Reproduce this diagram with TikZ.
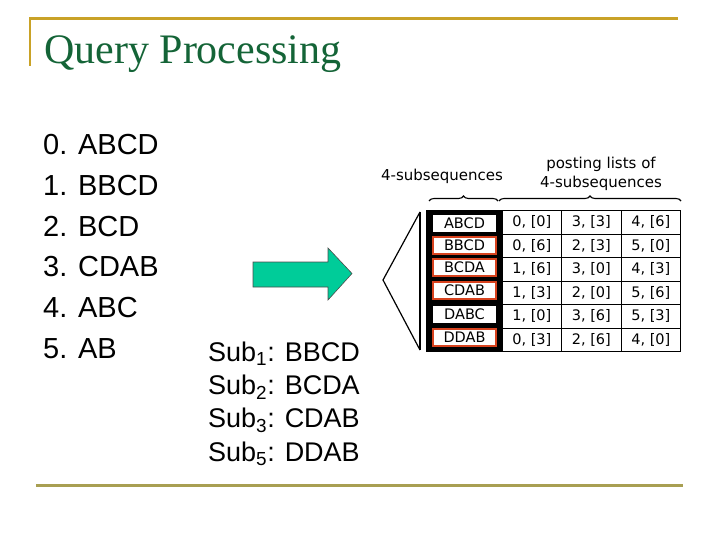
\documentclass[tikz,border=0pt]{standalone}
\usepackage{fontspec}
\setmainfont{Liberation Serif}
\setsansfont{Liberation Sans}
\newfontfamily\tabfont{DejaVu Sans}
\usetikzlibrary{decorations.pathreplacing}
\definecolor{goldline}{RGB}{201,162,39}
\definecolor{oliveline}{RGB}{168,159,82}
\definecolor{titlegreen}{RGB}{20,100,55}
\definecolor{arrowgreen}{RGB}{0,204,153}
\definecolor{cellred}{RGB}{216,67,31}
\tikzset{
  listtxt/.style={anchor=base west, inner sep=0pt, font=\fontsize{29}{29}\sffamily},
  subtxt/.style={anchor=base west, inner sep=0pt, font=\fontsize{27}{27}\sffamily},
  small/.style={inner sep=0pt, font=\fontsize{15}{17}\tabfont},
  postcell/.style={draw=black, line width=1.2pt, minimum width=59.5pt, minimum height=23.5pt, inner sep=0pt, font=\fontsize{14.5}{16}\tabfont, anchor=north west},
  keycell/.style={fill=white, minimum width=63pt, minimum height=17pt, inner sep=0pt, font=\fontsize{14.5}{16}\tabfont},
  redcell/.style={keycell, draw=cellred, line width=2pt},
}
\begin{document}
\begin{tikzpicture}[x=1pt,y=-1pt]
\useasboundingbox (0,0) rectangle (720,540);
% title frame
\draw[goldline, line width=2.6pt] (30,66) -- (30,18.5) -- (678,18.5);
\node[anchor=base west, inner sep=0pt, text=titlegreen, font=\fontsize{42}{42}\selectfont] (title) at (44,64) {Query Processing};
\draw[oliveline, line width=2.6pt] (36,485.5) -- (683,485.5);
% left list
\node[listtxt] (l0) at (43,155) {0. ABCD};
\node[listtxt] (l1) at (43,195.6) {1. BBCD};
\node[listtxt] (l2) at (43,236.2) {2. BCD};
\node[listtxt] (l3) at (43,276.8) {3. CDAB};
\node[listtxt] (l4) at (43,317.4) {4. ABC};
\node[listtxt] (l5) at (43,358) {5. AB};
% sub list
\node[subtxt] (s1) at (208,361) {Sub\textsubscript{1}: BBCD};
\node[subtxt] (s2) at (208,394.4) {Sub\textsubscript{2}: BCDA};
\node[subtxt] (s3) at (208,427.8) {Sub\textsubscript{3}: CDAB};
\node[subtxt] (s5) at (208,461.2) {Sub\textsubscript{5}: DDAB};
% arrow
\draw[fill=arrowgreen, draw=black!70, line width=0.6pt] (253,262) -- (328,262) -- (328,248) -- (352,273.5) -- (328,300) -- (328,287) -- (253,287) -- cycle;
% labels
\node[small] (lab1) at (442,176.5) {4-subsequences};
\node[small] (lab2) at (601,164.5) {posting lists of};
\node[small] (lab3) at (601,183) {4-subsequences};
\draw[line width=1.1pt, decorate, decoration={brace, amplitude=5pt}] (429,201) -- (498,201);
\draw[line width=1.1pt, decorate, decoration={brace, amplitude=5pt}] (499,201) -- (681,201);
% left bracket
\draw[line width=1.2pt] (420,212) -- (383,280) -- (420,350);
\draw[line width=1.2pt] (420,212) -- (420,350);
% key column
\fill[black] (425.5,210) rectangle (502,352);
\node[keycell] (k0) at (464.5,223.5) {ABCD};
\node[redcell] (k1) at (464.5,245) {BBCD};
\node[redcell] (k2) at (464.5,267) {BCDA};
\node[redcell] (k3) at (464.5,290) {CDAB};
\node[keycell] (k4) at (464.5,314) {DABC};
\node[redcell] (k5) at (464.5,337.5) {DDAB};
% posting cells
\foreach \r/\a/\b/\c in {0/{0, [0]}/{3, [3]}/{4, [6]},
                          1/{0, [6]}/{2, [3]}/{5, [0]},
                          2/{1, [6]}/{3, [0]}/{4, [3]},
                          3/{1, [3]}/{2, [0]}/{5, [6]},
                          4/{1, [0]}/{3, [6]}/{5, [3]},
                          5/{0, [3]}/{2, [6]}/{4, [0]}} {
  \node[postcell] (p\r a) at (501.5,{210+23.5*\r}) {\a};
  \node[postcell] (p\r b) at (561,{210+23.5*\r}) {\b};
  \node[postcell] (p\r c) at (620.5,{210+23.5*\r}) {\c};
}
\end{tikzpicture}
\end{document}
